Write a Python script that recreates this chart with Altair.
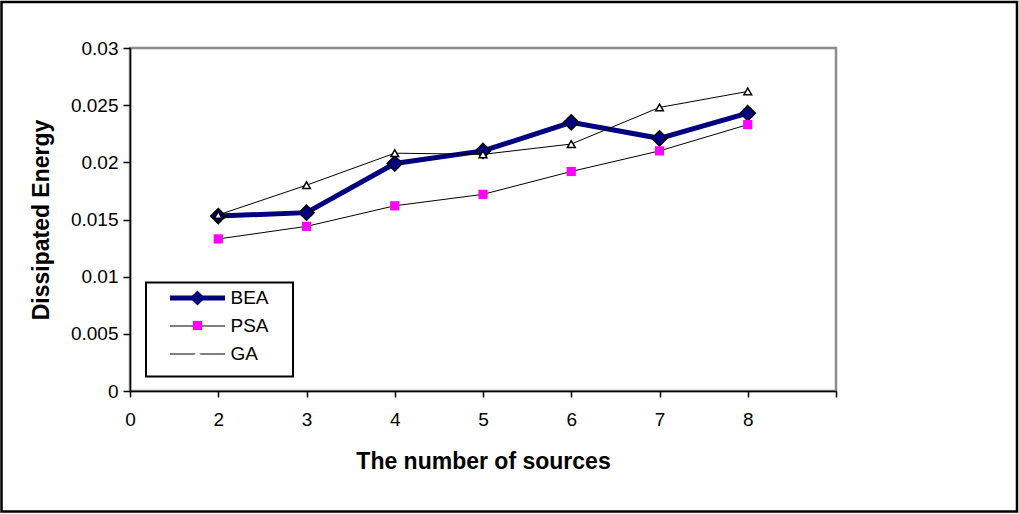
import altair as alt
import pandas as pd

# Number of sources on the horizontal axis
sources = [2, 3, 4, 5, 6, 7, 8]

# Dissipated energy per algorithm
bea = [0.0153, 0.0156, 0.0199, 0.0210, 0.0235, 0.0221, 0.0243]
psa = [0.0133, 0.0144, 0.0162, 0.0172, 0.0192, 0.0210, 0.0233]
ga = [0.0154, 0.0180, 0.0208, 0.0207, 0.0216, 0.0248, 0.0262]

series_names = ["BEA", "PSA", "GA"]
series_index = [0, 1, 2]

# Axis ticks and their labels
x_tick_values = [1, 2, 3, 4, 5, 6, 7, 8, 9]
x_tick_labels = ["0", "2", "3", "4", "5", "6", "7", "8", ""]
y_tick_values = [0, 0.005, 0.01, 0.015, 0.02, 0.025, 0.03]

# Series styling
line_colors = ["#000080", "#000000", "#000000"]
line_widths = [5, 1, 1]
marker_shapes = ["diamond", "square", "triangle-up"]
marker_fills = ["#000080", "#ff00ff", "#ffffff"]
marker_sizes = [230, 85, 60]
# solid outlines for BEA and GA, no visible outline for the PSA squares
marker_outline_dash = [[1, 0], [0, 100], [2, 0]]

FONT = "Liberation Sans"
W, H = 706, 343
PAD_L, PAD_T, PAD_R, PAD_B = 130, 48, 183, 123

rows = []
for idx, name, values in zip(series_index, series_names, [bea, psa, ga]):
    for s, v in zip(sources, values):
        rows.append({"sources": s, "energy": v, "series": name, "marker": idx})
df = pd.DataFrame(rows)

label_expr = "[" + ",".join("'%s'" % t for t in x_tick_labels) + "][datum.value - 1]"

x_enc = alt.X(
    "sources:Q",
    scale=alt.Scale(domain=[1, 9], nice=False, zero=False),
    axis=alt.Axis(
        values=x_tick_values, labelExpr=label_expr, title="The number of sources",
        tickSize=6, labelPadding=13, titlePadding=21,
        labelFlush=False, labelOverlap=False,
    ),
)
y_enc = alt.Y(
    "energy:Q",
    scale=alt.Scale(domain=[0, 0.03], nice=False),
    axis=alt.Axis(
        values=y_tick_values, format=".3~f", title="Dissipated Energy",
        tickSize=7, labelPadding=5, titlePadding=17,
        labelFlush=False, labelOverlap=False,
    ),
)

# Legend from the line layer: stroke samples and the visible labels
line_legend = alt.Legend(
    title=None, orient="none", legendX=16, legendY=235, padding=5,
    clipHeight=20, rowPadding=8, symbolType="stroke", symbolSize=3025,
    symbolOffset=16.5, labelOffset=3, labelFont=FONT, labelFontSize=19,
    labelColor="black", labelBaseline="middle",
)
# Legend from the point layer: markers over the strokes, and the frame
marker_legend = alt.Legend(
    title=None, orient="none", legendX=16, legendY=234.5, padding=7,
    rowPadding=2.5, symbolOffset=36, labelOffset=70.5,
    labelFont=FONT, labelFontSize=17, labelBaseline="top", labelColor="transparent",
    strokeColor="black", symbolStrokeColor="black", symbolStrokeWidth=1.5,
)

base = alt.Chart(df)

lines = base.mark_line().encode(
    x=x_enc,
    y=y_enc,
    stroke=alt.Stroke(
        "series:N", scale=alt.Scale(domain=series_names, range=line_colors),
        legend=line_legend,
    ),
    strokeWidth=alt.StrokeWidth(
        "series:N", scale=alt.Scale(type="ordinal", domain=series_names, range=line_widths),
        legend=line_legend,
    ),
)

points = base.mark_point(filled=True, opacity=1, stroke="black", strokeWidth=1.5).encode(
    x=x_enc,
    y=y_enc,
    shape=alt.Shape(
        "marker:N", scale=alt.Scale(domain=series_index, range=marker_shapes),
        legend=marker_legend,
    ),
    fill=alt.Fill(
        "marker:N", scale=alt.Scale(domain=series_index, range=marker_fills),
        legend=marker_legend,
    ),
    size=alt.Size(
        "marker:N", scale=alt.Scale(type="ordinal", domain=series_index, range=marker_sizes),
        legend=marker_legend,
    ),
    strokeDash=alt.StrokeDash(
        "marker:N", scale=alt.Scale(domain=series_index, range=marker_outline_dash),
        legend=marker_legend,
    ),
)

# Border around the whole figure
frame = alt.Chart(pd.DataFrame({"k": [0]})).mark_rect(
    fill="transparent", stroke="black", strokeWidth=2.5
).encode(
    x=alt.value(-PAD_L + 1.5), x2=alt.value(W + PAD_R - 2),
    y=alt.value(-PAD_T + 2), y2=alt.value(H + PAD_B - 2.5),
)

chart = (
    alt.layer(lines, points, frame)
    .properties(
        width=W, height=H,
        autosize=alt.AutoSizeParams(type="none"),
        padding={"left": PAD_L, "top": PAD_T, "right": PAD_R, "bottom": PAD_B},
        background="white",
    )
    .configure_view(stroke="#8c8c8c", strokeWidth=2.5)
    .configure_axis(
        labelFont=FONT, labelFontSize=19, labelColor="black",
        titleFont=FONT, titleFontSize=23, titleFontWeight="bold", titleColor="black",
        domainColor="black", domainWidth=1.5, tickColor="black", tickWidth=1.5,
        grid=False,
    )
    .configure_legend(strokeWidth=2)
)

chart.save("out.html", embed_options={"renderer": "svg", "actions": False})
